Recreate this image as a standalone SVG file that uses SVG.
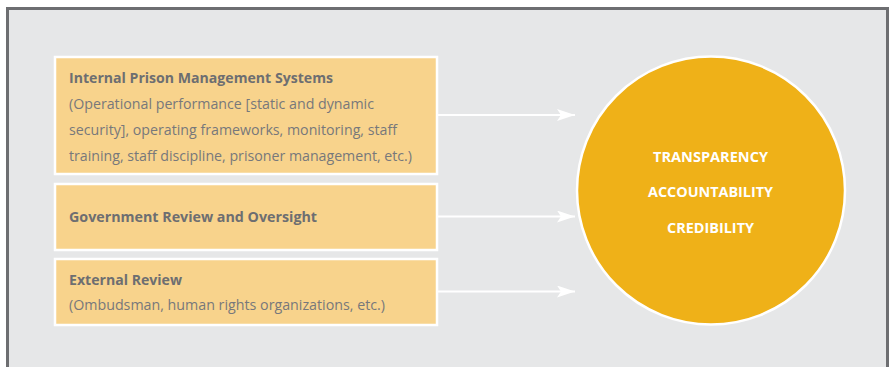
<svg xmlns="http://www.w3.org/2000/svg" width="892" height="367" viewBox="0 0 892 367">
  <defs>
    <style>
      .frame { fill: #e6e7e8; stroke: #6d6e71; stroke-width: 3; }
      .box { fill: #f8d38c; stroke: #ffffff; stroke-width: 2.5; }
      .hub { fill: #efb118; stroke: #ffffff; stroke-width: 2.5; }
      .title { font-family: "Open Sans", "Liberation Sans", sans-serif; font-size: 14px; font-weight: bold; fill: #6d6e71; }
      .body { font-family: "Open Sans", "Liberation Sans", sans-serif; font-size: 14px; fill: #77787b; }
      .hubtext { font-family: "Open Sans", "Liberation Sans", sans-serif; font-size: 14px; font-weight: bold; fill: #ffffff; text-anchor: middle; }
      .link { stroke: #ffffff; stroke-width: 2; fill: none; marker-end: url(#head); }
    </style>
    <marker id="head" viewBox="0 0 18 12" refX="18" refY="6" markerWidth="18" markerHeight="12" markerUnits="userSpaceOnUse" orient="auto">
      <path d="M0,0 L18,6 L0,12 L4,6 Z" fill="#ffffff"/>
    </marker>
  </defs>

  <!-- panel -->
  <rect class="frame" x="7.5" y="8.5" width="880" height="370"/>

  <!-- input boxes -->
  <g id="internal">
    <rect class="box" x="55" y="57" width="382" height="117"/>
    <text class="title" x="69" y="83" textLength="264" lengthAdjust="spacingAndGlyphs">Internal Prison Management Systems</text>
    <text class="body" x="69" y="109" textLength="305" lengthAdjust="spacingAndGlyphs">(Operational performance [static and dynamic</text>
    <text class="body" x="69" y="135" textLength="328" lengthAdjust="spacingAndGlyphs">security], operating frameworks, monitoring, staff</text>
    <text class="body" x="69" y="161" textLength="343" lengthAdjust="spacingAndGlyphs">training, staff discipline, prisoner management, etc.)</text>
  </g>

  <g id="government">
    <rect class="box" x="55" y="184" width="382" height="66"/>
    <text class="title" x="69" y="222" textLength="248" lengthAdjust="spacingAndGlyphs">Government Review and Oversight</text>
  </g>

  <g id="external">
    <rect class="box" x="55" y="259" width="382" height="66"/>
    <text class="title" x="69" y="285" textLength="113" lengthAdjust="spacingAndGlyphs">External Review</text>
    <text class="body" x="69" y="310" textLength="316" lengthAdjust="spacingAndGlyphs">(Ombudsman, human rights organizations, etc.)</text>
  </g>

  <!-- connectors -->
  <g id="connectors">
    <line class="link" x1="437" y1="115" x2="575" y2="115"/>
    <line class="link" x1="437" y1="216.5" x2="575" y2="216.5"/>
    <line class="link" x1="437" y1="291.5" x2="575" y2="291.5"/>
  </g>

  <!-- outcome circle -->
  <g id="outcome">
    <circle class="hub" cx="711" cy="190.5" r="134"/>
    <text class="hubtext" x="710.5" y="161.5" textLength="115" lengthAdjust="spacingAndGlyphs">TRANSPARENCY</text>
    <text class="hubtext" x="710.5" y="197" textLength="125" lengthAdjust="spacingAndGlyphs">ACCOUNTABILITY</text>
    <text class="hubtext" x="710.5" y="232.5" textLength="87" lengthAdjust="spacingAndGlyphs">CREDIBILITY</text>
  </g>
</svg>
